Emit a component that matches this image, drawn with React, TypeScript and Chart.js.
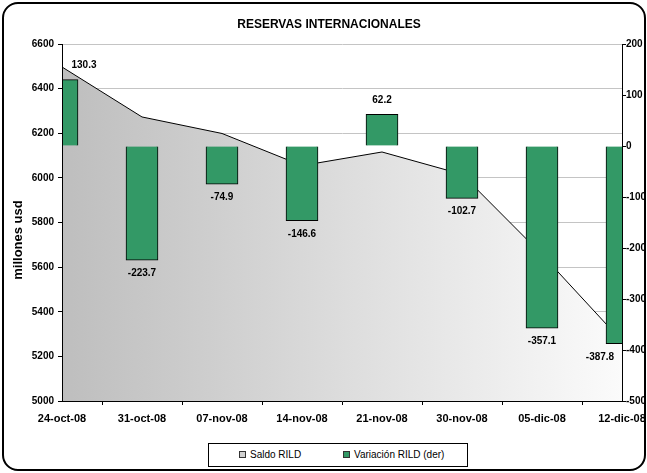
import React, { useEffect, useRef } from "react";
import { Chart, registerables } from "chart.js";

Chart.register(...registerables);

const categories = ["24-oct-08", "31-oct-08", "07-nov-08", "14-nov-08", "21-nov-08", "30-nov-08", "05-dic-08", "12-dic-08"];
const saldoRILD = [6497, 6273, 6199, 6055, 6116, 6016, 5656, 5268];
const variacionRILD = [130.3, -223.7, -74.9, -146.6, 62.2, -102.7, -357.1, -387.8];
const chartTitle = "RESERVAS INTERNACIONALES";
const leftAxisTitle = "millones usd";

const FONT = "'Liberation Sans', Arial, sans-serif";

const textPlugin = {
  id: "texts",
  afterDatasetsDraw(chart: any) {
    const meta = chart.getDatasetMeta(1);
    const ctx = chart.ctx;
    const area = chart.chartArea;
    ctx.save();
    ctx.font = `bold 10px ${FONT}`;
    ctx.fillStyle = "#000";
    ctx.textAlign = "center";
    ctx.textBaseline = "middle";
    meta.data.forEach((el: any, i: number) => {
      const v = variacionRILD[i];
      let x = el.x;
      if (Math.abs(x - area.left) < 2) x += 22;
      if (Math.abs(x - area.right) < 2) x -= 22;
      const y = v >= 0 ? el.y - 14 : el.y + 13;
      ctx.fillText(v.toFixed(1), x, y);
    });
    // chart title
    ctx.font = `bold 12px ${FONT}`;
    ctx.fillText(chartTitle, 329, 25);
    // left axis title
    ctx.translate(18, 240);
    ctx.rotate(-Math.PI / 2);
    ctx.font = `bold 13px ${FONT}`;
    ctx.fillText(leftAxisTitle, 0, 0);
    ctx.restore();
  },
};

export default function App() {
  const ref = useRef<HTMLCanvasElement>(null);
  useEffect(() => {
    const canvas = ref.current!;
    const chart = new Chart(canvas, {
      type: "bar",
      data: {
        labels: categories,
        datasets: [
          {
            type: "line",
            label: "Saldo RILD",
            data: saldoRILD,
            yAxisID: "y",
            borderColor: "#000",
            borderWidth: 1,
            pointRadius: 0,
            tension: 0,
            fill: "start",
            order: 2,
            clip: 0,
            backgroundColor: (c: any) => {
              const a = c.chart.chartArea;
              if (!a) return "#c0c0c0";
              const g = c.chart.ctx.createLinearGradient(a.left, 0, a.right, 0);
              g.addColorStop(0, "#bebebe");
              g.addColorStop(1, "#fbfbfb");
              return g;
            },
          } as any,
          {
            type: "bar",
            label: "Variación RILD (der)",
            data: variacionRILD,
            yAxisID: "y1",
            backgroundColor: "#339966",
            borderColor: "#000",
            borderWidth: 1,
            barThickness: 32,
            order: 1,
            clip: 0,
          } as any,
        ],
      },
      options: {
        animation: false,
        responsive: false,
        layout: { padding: { left: 0, right: 0, top: 44, bottom: 0 } },
        plugins: {
          legend: { display: false },
          tooltip: { enabled: false },
          title: { display: false },
        },
        scales: {
          x: {
            offset: false,
            grid: { display: true, drawOnChartArea: false, tickLength: 4, tickColor: "#000" },
            border: { color: "#000", width: 1, z: 1 },
            ticks: {
              color: "#000",
              font: { family: FONT, size: 11, weight: "bold" },
              maxRotation: 0,
              autoSkip: false,
              padding: 7,
            },
            afterFit: (s: any) => {
              s.height = 72;
              s.paddingLeft = 0;
              s.paddingRight = 0;
            },
          },
          y: {
            position: "left",
            min: 5000,
            max: 6600,
            grid: { color: "#c4c4c4", tickLength: 4, tickColor: "#000" },
            border: { color: "#000", width: 1, z: 1 },
            ticks: {
              stepSize: 200,
              color: "#000",
              font: { family: FONT, size: 10, weight: "bold" },
              padding: 4,
              callback: (v: any) => String(v),
            },
            afterFit: (s: any) => { s.width = 62; },
          },
          y1: {
            position: "right",
            min: -500,
            max: 200,
            grid: { display: true, drawOnChartArea: false, tickLength: 4, tickColor: "#000" },
            border: { color: "#000", width: 1, z: 1 },
            ticks: {
              stepSize: 100,
              color: "#000",
              font: { family: FONT, size: 10, weight: "bold" },
              padding: 0,
              callback: (v: any) => String(v),
            },
            afterFit: (s: any) => { s.width = 25; },
          },
        },
      } as any,
      plugins: [textPlugin],
    });
    return () => chart.destroy();
  }, []);

  const sq = (bg: string): React.CSSProperties => ({
    display: "inline-block",
    width: 5,
    height: 5,
    background: bg,
    border: "1px solid #333",
    marginRight: 4,
    verticalAlign: "middle",
    position: "relative",
    top: -1,
  });

  return (
    <div style={{ position: "absolute", left: 0, top: 0, width: 647, height: 473, background: "#fff", overflow: "hidden" }}>
      <div style={{ position: "absolute", left: 0, top: 0, width: 645, height: 473, overflow: "hidden" }}>
        <canvas ref={ref} width={647} height={473} style={{ position: "absolute", left: 0, top: 0 }} />
      </div>
      <div
        style={{
          position: "absolute",
          left: 2,
          top: 2,
          width: 640,
          height: 465,
          border: "2px solid #000",
          borderRadius: 16,
          pointerEvents: "none",
        }}
      />
      <div
        style={{
          position: "absolute",
          left: 208,
          top: 443,
          width: 260,
          height: 24,
          border: "1px solid #000",
          background: "#fff",
          fontFamily: FONT,
          fontSize: 10,
          color: "#000",
          boxSizing: "border-box",
          lineHeight: "22px",
          whiteSpace: "nowrap",
        }}
      >
        <span style={{ position: "absolute", left: 30 }}>
          <span style={sq("#d0d0d0")} />Saldo RILD
        </span>
        <span style={{ position: "absolute", left: 134 }}>
          <span style={sq("#339966")} />Variación RILD (der)
        </span>
      </div>
    </div>
  );
}
